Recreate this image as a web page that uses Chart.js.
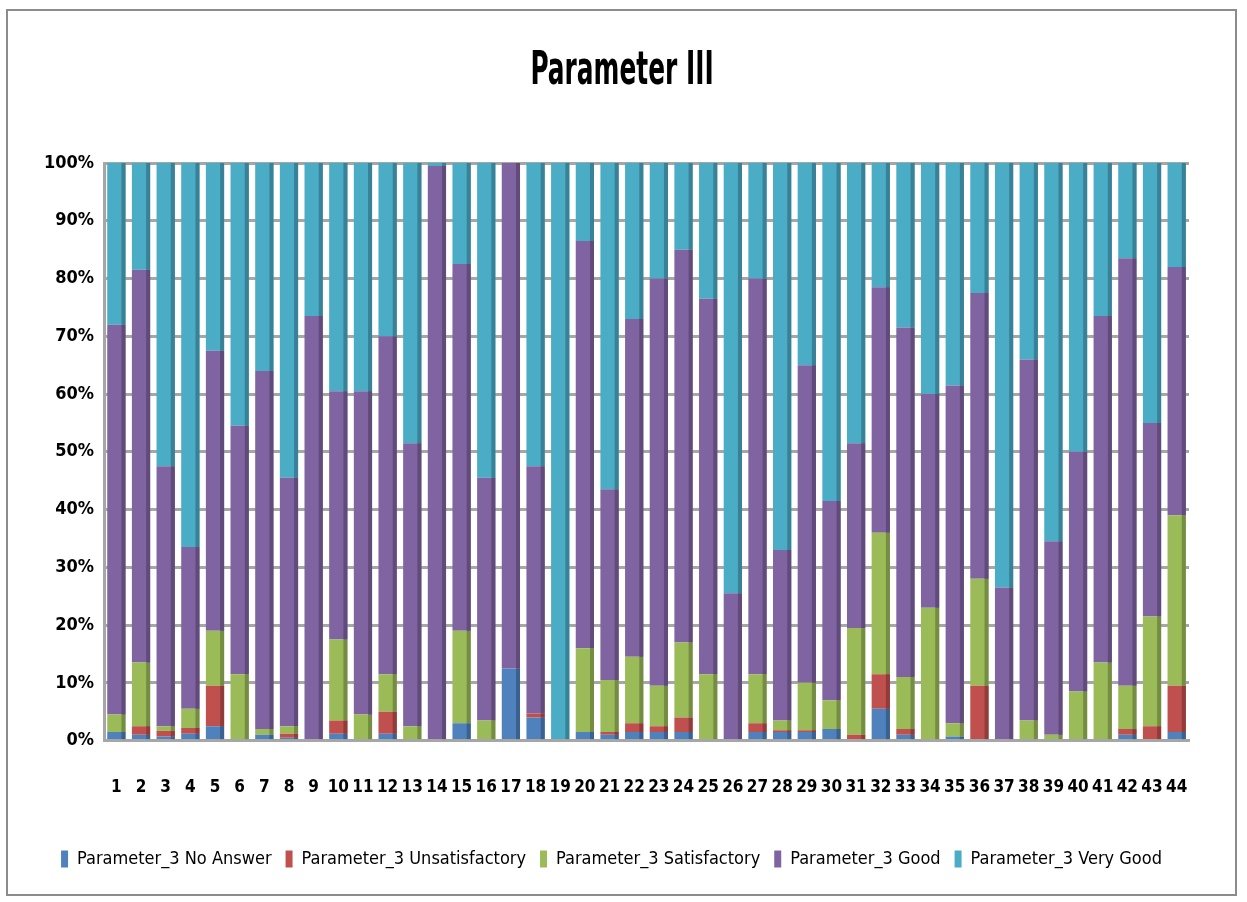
<!DOCTYPE html>
<html lang="en">
<head>
  <meta charset="UTF-8">
  <script src="https://cdn.jsdelivr.net/npm/chart.js"></script>
  <title>Parameter III</title>
  <style>
    body { margin: 0; background: #fff; }
    #wrap { position: absolute; left: 0; top: 0; width: 1247px; height: 902px; }
    #frame { position: absolute; left: 6px; top: 9px; width: 1231px; height: 887px; border: 2px solid #8c8c8c; box-sizing: border-box; pointer-events: none; }
  </style>
</head>
<body>
  <div id="wrap">
    <canvas id="chart"></canvas>
    <div id="frame"></div>
  </div>

  <script>
    const labels = Array.from({ length: 44 }, (_, i) => String(i + 1));

    const noAnswer = [1.5, 1, 0.7, 1.2, 2.5, 0, 1, 0.5, 0, 1.2, 0, 1.2, 0, 0, 3, 0, 12.5, 4, 0, 1.5, 1, 1.5,
      1.5, 1.5, 0, 0, 1.5, 1.5, 1.5, 2, 0, 5.5, 1, 0, 0.7, 0, 0, 0, 0, 0, 0, 1, 0, 1.5];
    const unsatisfactory = [0, 1.5, 1, 1, 7, 0, 0, 0.7, 0, 2.3, 0, 3.8, 0, 0, 0, 0, 0, 0.7, 0, 0, 0.5, 1.5,
      1, 2.5, 0, 0, 1.5, 0.3, 0.3, 0, 1, 6, 1, 0, 0, 9.5, 0, 0, 0, 0, 0, 1, 2.5, 8];
    const satisfactory = [3, 11, 0.8, 3.3, 9.5, 11.5, 1, 1.3, 0, 14, 4.5, 6.5, 2.5, 0, 16, 3.5, 0, 0, 0, 14.5, 9, 11.5,
      7, 13, 11.5, 0, 8.5, 1.7, 8.2, 5, 18.5, 24.5, 9, 23, 2.3, 18.5, 0, 3.5, 1, 8.5, 13.5, 7.5, 19, 29.5];
    const good = [67.5, 68, 45, 28, 48.5, 43, 62, 43, 73.5, 43, 56, 58.5, 49, 99.5, 63.5, 42, 87.5, 42.8, 0, 70.5, 33, 58.5,
      70.5, 68, 65, 25.5, 68.5, 29.5, 55, 34.5, 32, 42.5, 60.5, 37, 58.5, 49.5, 26.5, 62.5, 33.5, 41.5, 60, 74, 33.5, 43];
    const veryGood = [28, 18.5, 52.5, 66.5, 32.5, 45.5, 36, 54.5, 26.5, 39.5, 39.5, 30, 48.5, 0.5, 17.5, 54.5, 0, 52.5, 100, 13.5, 56.5, 27,
      20, 15, 23.5, 74.5, 20, 67, 35, 58.5, 48.5, 21.5, 28.5, 40, 38.5, 22.5, 73.5, 34, 65.5, 50, 26.5, 16.5, 45, 18];

    const seriesNames = ["Parameter_3 No Answer", "Parameter_3 Unsatisfactory", "Parameter_3 Satisfactory", "Parameter_3 Good", "Parameter_3 Very Good"];
    const seriesColors = ["#4F81BD", "#C0504D", "#9BBB59", "#8064A2", "#4BACC6"];
    const sideColors = ["#3A6190", "#913C3A", "#748D42", "#604B7A", "#388196"];

    const font = "'Liberation Sans Narrow', 'DejaVu Sans Condensed', 'Liberation Sans', sans-serif";

    // darker right face on each bar, to hint at the original 3D look
    const sideFace = {
      id: "sideFace",
      afterDatasetsDraw(chart) {
        const ctx = chart.ctx;
        chart.data.datasets.forEach((ds, di) => {
          chart.getDatasetMeta(di).data.forEach(bar => {
            const h = bar.base - bar.y;
            if (h <= 0.5) return;
            ctx.fillStyle = sideColors[di];
            ctx.fillRect(bar.x + bar.width / 2 - 4, bar.y, 4, h);
          });
        });
      }
    };

    // the original title is a very narrow bold face, so squeeze it sideways
    const narrowTitle = {
      id: "narrowTitle",
      afterDraw(chart) {
        const ctx = chart.ctx;
        ctx.save();
        ctx.translate(622, 72);
        ctx.scale(0.6, 1);
        ctx.fillStyle = "#000";
        ctx.font = "bold 46px " + font;
        ctx.textAlign = "center";
        ctx.textBaseline = "middle";
        ctx.fillText("Parameter III", 0, 0);
        ctx.restore();
      }
    };

    new Chart(document.getElementById("chart"), {
      type: "bar",
      data: {
        labels,
        datasets: [noAnswer, unsatisfactory, satisfactory, good, veryGood].map((d, i) => ({
          label: seriesNames[i],
          data: d,
          backgroundColor: seriesColors[i],
          borderWidth: 0,
          barPercentage: 0.74,
          categoryPercentage: 1
        }))
      },
      options: {
        responsive: true,
        maintainAspectRatio: false,
        animation: false,
        layout: { padding: { left: 34, right: 58, top: 163, bottom: 24 } },
        plugins: {
          title: { display: false },
          legend: {
            position: "bottom",
            labels: {
              color: "#000",
              font: { family: font, size: 18 },
              boxWidth: 7,
              boxHeight: 17,
              padding: 14
            }
          },
          tooltip: { enabled: false }
        },
        scales: {
          x: {
            stacked: true,
            grid: { display: false },
            border: { color: "#a6a6a6", width: 3 },
            ticks: { color: "#000", font: { family: font, size: 17, weight: "bold" }, maxRotation: 0, autoSkip: false, padding: 29 },
            afterFit(scale) { scale.height += 9; }
          },
          y: {
            stacked: true,
            min: 0,
            max: 100,
            grid: { color: "#a6a6a6", lineWidth: 3, drawTicks: false },
            border: { color: "#a6a6a6", width: 3 },
            ticks: {
              stepSize: 10,
              color: "#000",
              padding: 10,
              font: { family: font, size: 18, weight: "bold" },
              callback: v => v + "%"
            }
          }
        }
      },
      plugins: [sideFace, narrowTitle]
    });
  </script>
</body>
</html>
